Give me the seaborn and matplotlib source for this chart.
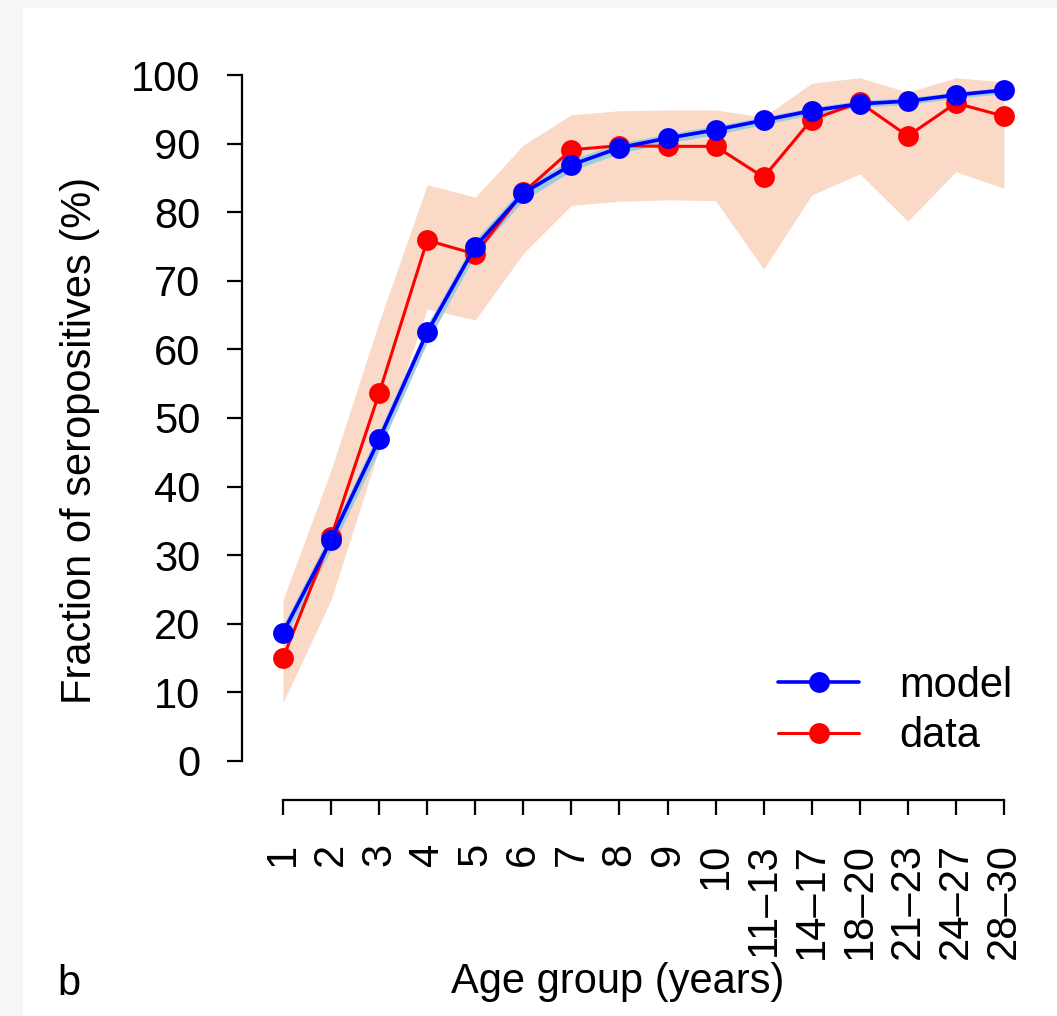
import numpy as np
import pandas as pd
import seaborn as sns
import matplotlib.pyplot as plt
from matplotlib.lines import Line2D
from matplotlib.patches import Rectangle

# age groups and seropositive fractions (%)
groups = ["1", "2", "3", "4", "5", "6", "7", "8", "9", "10",
          "11–13", "14–17", "18–20", "21–23", "24–27", "28–30"]
model = [18.7, 32.2, 46.9, 62.5, 75.0, 82.8, 86.9, 89.4, 90.8, 92.0,
         93.4, 94.8, 95.8, 96.2, 97.1, 97.8]
model_lo = [17.4, 30.8, 45.3, 61.0, 73.8, 81.7, 86.0, 88.6, 90.1, 91.3,
            92.8, 94.2, 95.3, 95.7, 96.6, 97.3]
model_hi = [19.8, 33.4, 48.1, 63.6, 76.0, 83.7, 87.7, 90.1, 91.4, 92.6,
            93.9, 95.3, 96.3, 96.7, 97.5, 98.2]
data = [15.0, 32.6, 53.6, 75.9, 73.9, 82.9, 89.1, 89.7, 89.6, 89.6,
        85.1, 93.5, 96.0, 91.1, 95.9, 94.0]
data_lo = [8.5, 23.5, 45.5, 65.9, 64.3, 74.0, 81.0, 81.6, 81.8, 81.7,
           71.7, 82.5, 85.6, 78.7, 85.9, 83.5]
data_hi = [23.5, 42.4, 64.0, 84.0, 82.2, 89.8, 94.2, 94.8, 94.9, 94.9,
           93.9, 98.8, 99.6, 97.5, 99.6, 99.0]

sns.set_style("ticks")
plt.rcParams["font.family"] = ["Liberation Sans", "DejaVu Sans"]
plt.rcParams["text.color"] = "black"
plt.rcParams["xtick.color"] = "black"
plt.rcParams["ytick.color"] = "black"
plt.rcParams["axes.labelcolor"] = "black"
FS = 30

df = pd.DataFrame({"pos": np.arange(len(groups)), "model": model, "data": data})

fig = plt.figure(figsize=(10.57, 10.16), dpi=100, facecolor="#f6f6f6")
fig.patches.append(Rectangle((23 / 1057, 0), 1, 1008 / 1016, transform=fig.transFigure,
                             color="white", zorder=-10))
ax = fig.add_axes([242 / 1057, 216 / 1016, 798 / 1057, 740 / 1016])
ax.set_facecolor("none")

# confidence bands
ax.fill_between(df["pos"], data_lo, data_hi, color="#fad9c6", lw=0, zorder=1)
ax.fill_between(df["pos"], model_lo, model_hi, color="#9fcbe0", lw=0, zorder=2)

sns.lineplot(data=df, x="pos", y="data", color="#ff0000", marker="o", markersize=15,
             markeredgewidth=0, linewidth=2.2, ax=ax, zorder=3)
sns.lineplot(data=df, x="pos", y="model", color="#0000ff", marker="o", markersize=15,
             markeredgewidth=0, linewidth=2.6, ax=ax, zorder=4)

ax.set_xlim(-0.853, 15.75)
ax.set_ylim(-5.69, 102.19)
ax.set_xticks(df["pos"])
ax.set_xticklabels(groups, rotation=90, fontsize=FS)
ax.set_yticks(range(0, 101, 10))
ax.set_yticklabels([str(v) for v in range(0, 101, 10)], fontsize=FS)
ax.tick_params(axis="both", direction="out", length=11, width=1.6, color="black")
ax.tick_params(axis="y", pad=19)
ax.tick_params(axis="x", pad=20)

for s in ["top", "right"]:
    ax.spines[s].set_visible(False)
ax.spines["left"].set_bounds(0, 100)
ax.spines["bottom"].set_bounds(0, 15)
for s in ["left", "bottom"]:
    ax.spines[s].set_linewidth(1.6)
    ax.spines[s].set_color("black")

ax.set_xlabel("")
ax.set_ylabel("")
fig.text(618 / 1057, 1 - 993 / 1016, "Age group (years)", fontsize=FS,
         ha="center", va="baseline")
fig.text(80 / 1057, 1 - 440 / 1016, "Fraction of seropositives (%)", fontsize=FS,
         rotation=90, ha="center", va="center")
fig.text(57 / 1057, 1 - 995 / 1016, "b", fontsize=FS, ha="left", va="baseline")

handles = [Line2D([], [], color="#0000ff", lw=2.6, marker="o", markersize=15, markeredgewidth=0),
           Line2D([], [], color="#ff0000", lw=2.2, marker="o", markersize=15, markeredgewidth=0)]
ax.legend(handles, ["model", "data"], loc="center left", frameon=False, fontsize=FS,
          handlelength=1.95, handletextpad=0.95, labelspacing=0.25, borderpad=0,
          borderaxespad=0, bbox_to_anchor=(778 / 1057, 1 - 711 / 1016),
          bbox_transform=fig.transFigure)

fig.savefig("out.png", dpi=100, facecolor=fig.get_facecolor())
